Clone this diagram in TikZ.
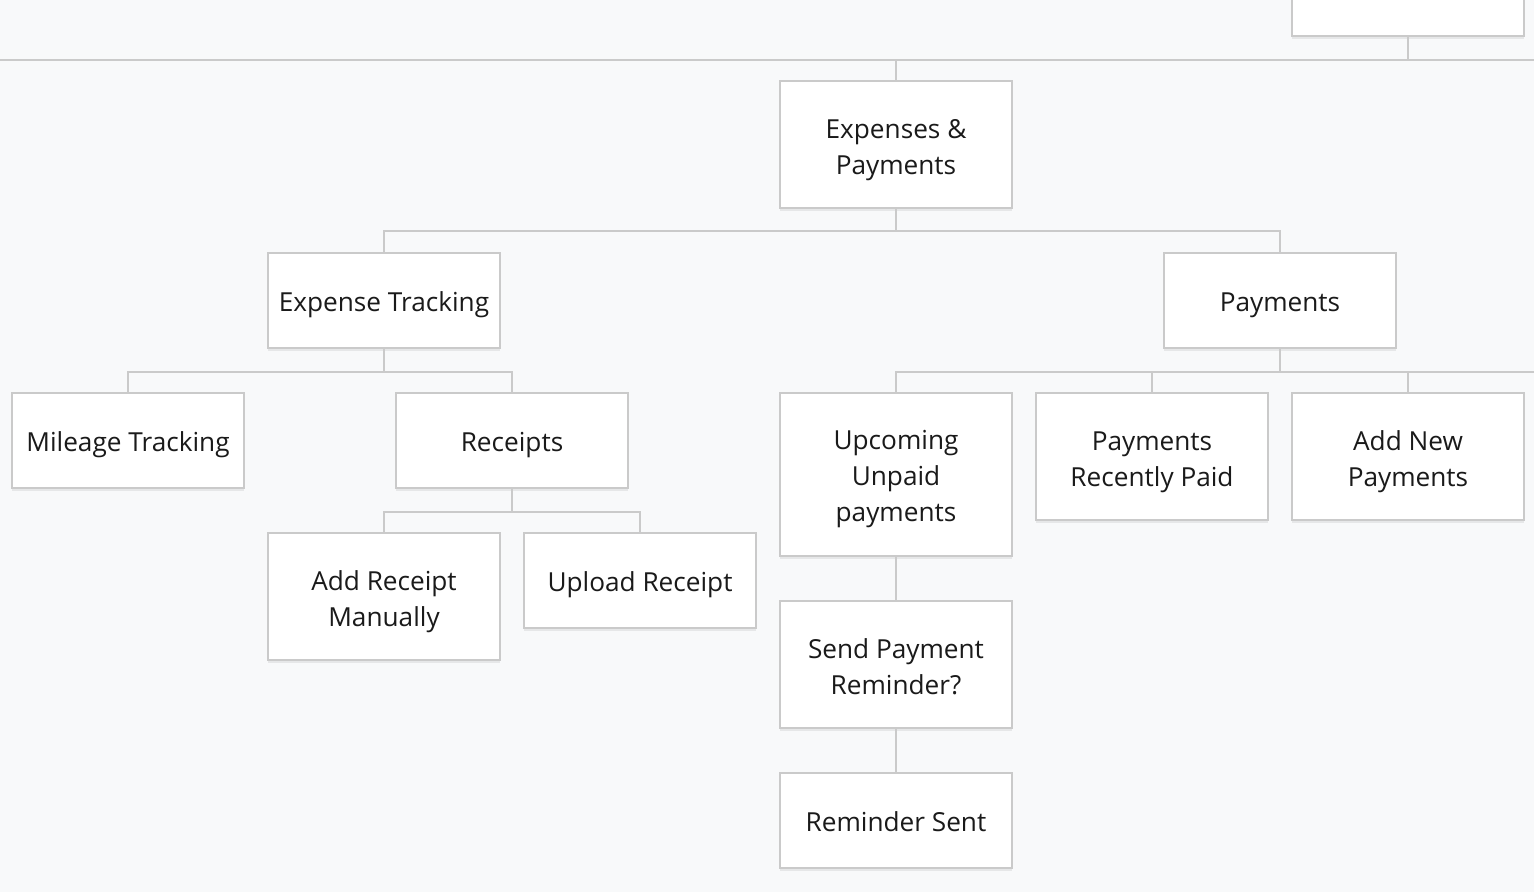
\documentclass[tikz,border=0pt]{standalone}
\usepackage{fontspec}
\setmainfont{Open Sans}
\usetikzlibrary{shadows}
\definecolor{canvas}{HTML}{F8F9FA}
\definecolor{rule}{HTML}{CACACA}
\definecolor{ink}{HTML}{1A1A1A}
\tikzset{
  page/.style   = {draw=rule, line width=1pt, fill=white, minimum width=116pt, align=center,
                   text=ink, font=\fontsize{13.1}{18}\selectfont,
                   drop shadow={shadow xshift=0pt, shadow yshift=-1.5pt, opacity=0.07, fill=black}},
  page1/.style  = {page, minimum height=47.5pt, execute at begin node={\rule[-3.3pt]{0pt}{17.8pt}}},
  page2/.style  = {page, minimum height=63.5pt, execute at begin node={\rule[-3.3pt]{0pt}{36.8pt}}},
  page3/.style  = {page, minimum height=81.5pt, execute at begin node={\rule[-3.3pt]{0pt}{53.8pt}}},
  link/.style   = {draw=rule, line width=1pt}
}

\begin{document}
\begin{tikzpicture}[x=0.5pt, y=-0.5pt]

\fill[canvas] (0,0) rectangle (1534,892);
\useasboundingbox (0,0) rectangle (1534,892);

% Off-page parent and its bus
\draw node [page1] (top) at (1408,-11.5) {};
\coordinate (busleft) at (0,60);
\coordinate (busright) at (1534,60);
\coordinate (payedge) at (1534,372);

% Level 1
\draw node [page2] (epay) at (896,144.5) {Expenses \&\\Payments};

% Level 2
\draw node [page1] (track) at (384,300.5) {Expense Tracking};
\draw node [page1, right of=track, node distance=448pt] (pay) {Payments};

% Expense tracking branch
\draw node [page1] (mileage) at (128,440.5) {Mileage Tracking};
\draw node [page1, right of=mileage, node distance=192pt] (receipts) {Receipts};
\draw node [page2] (addrcpt) at (384,596.5) {Add Receipt\\Manually};
\draw node [page1] (upload) at (640,580.5) {Upload Receipt};

% Payments branch
\draw node [page3] (upcoming) at (896,474.5) {Upcoming\\Unpaid\\payments};
\draw node [page2] (recent) at (1152,456.5) {Payments\\Recently Paid};
\draw node [page2, right of=recent, node distance=128pt] (addnew) {Add New\\Payments};
\draw node [page2, below of=upcoming, node distance=95pt] (remind) {Send Payment\\Reminder?};
\draw node [page1, below of=remind, node distance=78pt] (sent) {Reminder Sent};

% Connections
\draw[link] (busleft) -- (busright);
\draw[link] (top.south) -- (top.south |- busleft);
\draw[link] (epay.north) -- (epay.north |- busleft);
\draw[link] (epay.south) -- ++(0,-11pt) -| (track.north);
\draw[link] (epay.south) -- ++(0,-11pt) -| (pay.north);
\draw[link] (track.south) -- ++(0,-11.5pt) -| (mileage.north);
\draw[link] (track.south) -- ++(0,-11.5pt) -| (receipts.north);
\draw[link] (receipts.south) -- ++(0,-11.5pt) -| (addrcpt.north);
\draw[link] (receipts.south) -- ++(0,-11.5pt) -| (upload.north);
\draw[link] (pay.south) -- ++(0,-11.5pt) -| (upcoming.north);
\draw[link] (pay.south) -- ++(0,-11.5pt) -| (recent.north);
\draw[link] (pay.south) -- ++(0,-11.5pt) -| (addnew.north);
\draw[link] (pay.south |- payedge) -- (payedge);
\draw[link] (upcoming) -- (remind);
\draw[link] (remind) -- (sent);

\end{tikzpicture}
\end{document}
